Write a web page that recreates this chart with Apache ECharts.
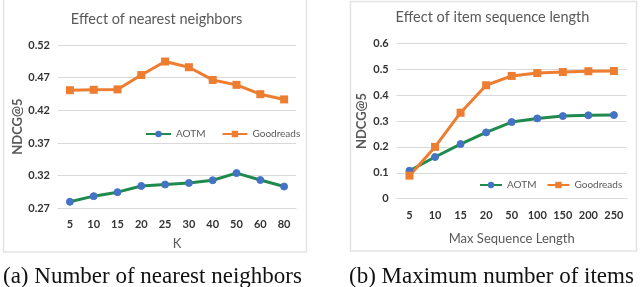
<!DOCTYPE html>
<html><head><meta charset="utf-8">
<script src="https://cdn.jsdelivr.net/npm/echarts@6/dist/echarts.min.js"></script>
<style>html,body{margin:0;padding:0;background:#fff}#c{width:640px;height:287px}</style>
</head><body><div id="c"></div>
<script>
const kCategories = ['5','10','15','20','25','30','40','50','60','80'];
const kAOTM = [0.280,0.2886,0.2947,0.3042,0.3064,0.3088,0.3129,0.3239,0.3133,0.3033];
const kGoodreads = [0.4508,0.4514,0.452,0.474,0.4947,0.486,0.4665,0.459,0.4447,0.4367];
const lenCategories = ['5','10','15','20','50','100','150','200','250'];
const lenAOTM = [0.108,0.161,0.211,0.256,0.296,0.310,0.319,0.322,0.323];
const lenGoodreads = [0.089,0.200,0.332,0.438,0.474,0.485,0.489,0.492,0.493];

const FONT = 'Lato';
const green = '#1f8a4c', blue = '#4472c4', orange = '#ed7d31';
const chart = echarts.init(document.getElementById('c'));

function xAxis(gi, data, name, gap) {
  return {type:'category', gridIndex:gi, data:data, boundaryGap:true,
    name:name, nameLocation:'middle', nameGap:gap,
    nameTextStyle:{fontFamily:FONT, fontSize:13, color:'#595959'},
    axisLine:{show:true, lineStyle:{color:'#d9d9d9', width:1}},
    axisTick:{show:false},
    axisLabel:{fontFamily:FONT, fontSize:11, fontWeight:'bold', color:'#333', margin:11, interval:0}};
}
function yAxis(gi, min, max, interval, digits, gap) {
  return {type:'value', gridIndex:gi, min:min, max:max, interval:interval,
    name:'NDCG@5', nameLocation:'middle', nameGap:gap, nameRotate:90,
    nameTextStyle:{fontFamily:FONT, fontSize:13, color:'#595959', fontWeight:'bold'},
    axisLine:{show:false}, axisTick:{show:false},
    splitLine:{lineStyle:{color:'#d9d9d9', width:1}},
    axisLabel:{fontFamily:FONT, fontSize:11, fontWeight:'bold', color:'#333', margin:8,
      formatter: v => (Math.abs(v) < 1e-9 ? '0' : (digits === 2 ? v.toFixed(2) : (+v.toFixed(1)).toString()))}};
}
function aotm(xi, data) {
  return {name:'AOTM', type:'line', xAxisIndex:xi, yAxisIndex:xi, data:data,
    symbol:'circle', symbolSize:7,
    lineStyle:{color:green, width:3}, itemStyle:{color:blue, borderColor:blue},
    color:green, z:3};
}
function goodreads(xi, data) {
  return {name:'Goodreads', type:'line', xAxisIndex:xi, yAxisIndex:xi, data:data,
    symbol:'rect', symbolSize:8,
    lineStyle:{color:orange, width:3}, itemStyle:{color:orange},
    color:orange, z:3};
}
function legend(left, top, w, gap) {
  return {left:left, top:top, width:220, itemWidth:w, itemHeight:8, itemGap:gap,
    padding:0,
    textStyle:{fontFamily:FONT, fontSize:10, color:'#595959'},
    data:['AOTM','Goodreads']};
}

chart.setOption({
  animation:false,
  title:[
    {text:'Effect of nearest neighbors', left:151.5, top:7, textAlign:'center',
      textStyle:{fontFamily:FONT, fontSize:14.5, fontWeight:'normal', color:'#595959'}},
    {text:'Effect of item sequence length', left:487.5, top:5, textAlign:'center',
      textStyle:{fontFamily:FONT, fontSize:14.5, fontWeight:'normal', color:'#595959'}},
    {text:'(a) Number of nearest neighbors', left:3, top:265, padding:0,
      textStyle:{fontFamily:'Liberation Serif', fontSize:23, fontWeight:'normal', color:'#111'}},
    {text:'(b) Maximum number of items', left:349, top:265, padding:0,
      textStyle:{fontFamily:'Liberation Serif', fontSize:23, fontWeight:'normal', color:'#111'}}
  ],
  graphic:[
    {type:'rect', shape:{x:3.5, y:-2, width:303, height:254}, style:{fill:'none', stroke:'#e3e3e3', lineWidth:1.5}, silent:true},
    {type:'rect', shape:{x:350.5, y:1.5, width:286, height:249.5}, style:{fill:'none', stroke:'#e3e3e3', lineWidth:1.5}, silent:true}
  ],
  legend:[legend(145, 129, 25, 16), legend(479, 180, 22, 10)],
  grid:[
    {left:58, width:238, top:45, height:163.3},
    {left:396.7, width:230, top:43.3, height:155.4}
  ],
  xAxis:[xAxis(0, kCategories, 'K', 29), xAxis(1, lenCategories, 'Max Sequence Length', 34)],
  yAxis:[yAxis(0, 0.27, 0.52, 0.05, 2, 34), yAxis(1, 0, 0.6, 0.1, 1, 28)],
  series:[aotm(0, kAOTM), goodreads(0, kGoodreads), aotm(1, lenAOTM), goodreads(1, lenGoodreads)]
});
</script></body></html>
